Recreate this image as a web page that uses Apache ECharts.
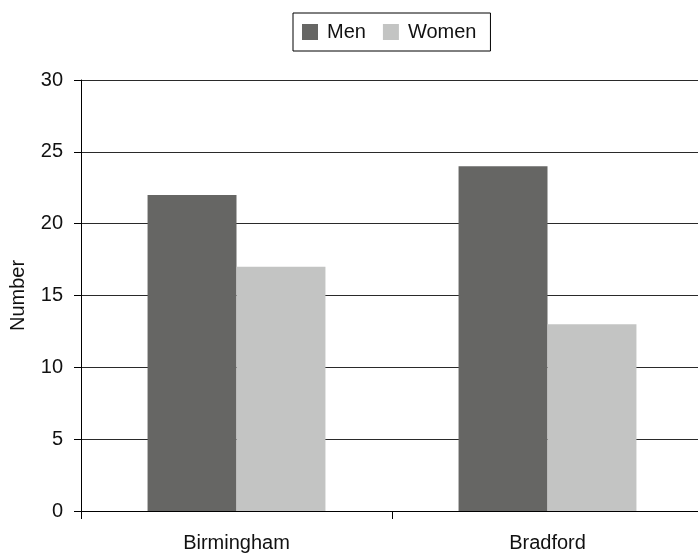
<!DOCTYPE html>
<html>
<head>
<meta charset="utf-8">
<script src="https://cdn.jsdelivr.net/npm/echarts@6/dist/echarts.min.js"></script>
<style>
  html, body { margin: 0; padding: 0; background: #fff; }
  #chart { width: 698px; height: 556px; }
</style>
</head>
<body>
<div id="chart"></div>
<script>
// Number of men and women per city
const cities = ['Birmingham', 'Bradford'];
const men = [22, 24];
const women = [17, 13];
const yTicks = [0, 5, 10, 15, 20, 25, 30];

const font = 'Liberation Sans, Arial, Helvetica, sans-serif';
const chart = echarts.init(document.getElementById('chart'));

chart.setOption({
  animation: false,
  backgroundColor: '#ffffff',
  legend: {
    top: 13,
    left: 293,
    data: ['Men', 'Women'],
    itemWidth: 16,
    itemHeight: 16,
    itemGap: 17,
    icon: 'rect',
    borderColor: '#000',
    borderWidth: 1,
    borderRadius: 0,
    padding: [9, 14, 9, 9],
    textStyle: { fontFamily: font, fontSize: 20, color: '#111', padding: [0, 0, 0, 4] }
  },
  grid: { left: 81, top: 80, width: 622, height: 431, outerBoundsMode: 'none', containLabel: false },
  xAxis: {
    type: 'category',
    data: cities,
    axisLine: { lineStyle: { color: '#000', width: 1 } },
    axisTick: { show: true, length: 8, alignWithLabel: false, lineStyle: { color: '#000' } },
    axisLabel: { fontFamily: font, fontSize: 20, color: '#111', margin: 22 }
  },
  yAxis: {
    type: 'value',
    min: yTicks[0],
    max: yTicks[yTicks.length - 1],
    interval: 5,
    name: 'Number',
    nameLocation: 'middle',
    nameGap: 53,
    nameTextStyle: { fontFamily: font, fontSize: 20, color: '#111' },
    axisLine: { show: true, lineStyle: { color: '#000', width: 1 } },
    axisTick: { show: true, length: 7, inside: false, lineStyle: { color: '#000' } },
    axisLabel: { fontFamily: font, fontSize: 20, color: '#111', margin: 18 },
    splitLine: { show: true, lineStyle: { color: '#2a2a2a', width: 1.2 } }
  },
  series: [
    {
      name: 'Men',
      type: 'bar',
      data: men,
      barGap: '0%',
      barCategoryGap: '42.8%',
      itemStyle: { color: '#666664' }
    },
    {
      name: 'Women',
      type: 'bar',
      data: women,
      itemStyle: { color: '#c3c4c3' }
    }
  ]
});
</script>
</body>
</html>
